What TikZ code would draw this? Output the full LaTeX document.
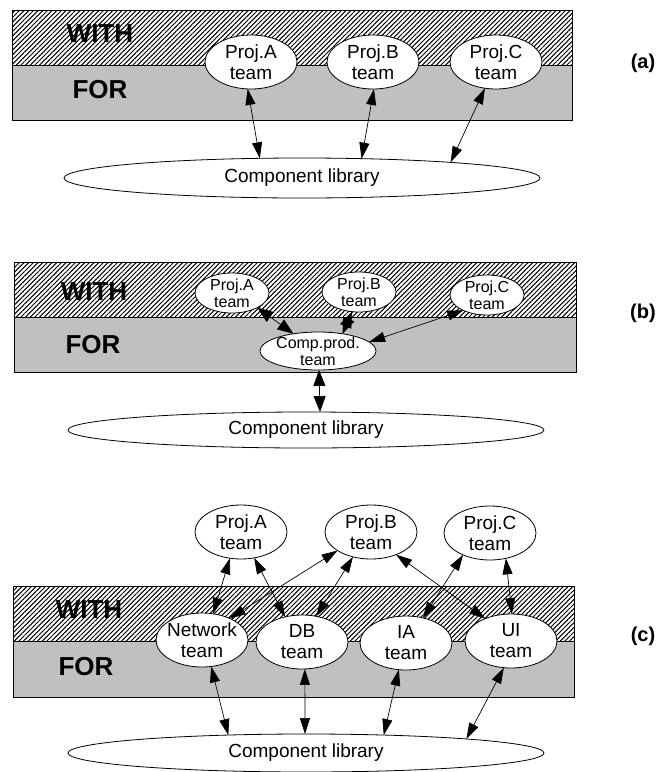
\documentclass[tikz,border=0pt]{standalone}
\usepackage{fontspec}
\setmainfont{Liberation Sans}
\usetikzlibrary{arrows.meta,patterns.meta,shapes.geometric}
\definecolor{forgray}{RGB}{192,192,192}

\begin{document}
\begin{tikzpicture}[x=1pt,y=-1pt,
  team/.style={ellipse,draw,fill=white,line width=0.8pt,inner sep=-8pt,outer sep=0pt,
    minimum width=92pt,minimum height=54pt,align=center,font=\fontsize{19}{21}\selectfont},
  smallteam/.style={team,minimum width=74pt,minimum height=40pt,font=\fontsize{16}{17}\selectfont},
  lib/.style={ellipse,draw,fill=white,line width=0.8pt,inner sep=-8pt,outer sep=0pt,
    minimum width=476pt,minimum height=40pt,font=\fontsize{19}{21}\selectfont},
  zone/.style={font=\bfseries\fontsize{26}{28}\selectfont},
  tag/.style={font=\bfseries\fontsize{20}{22}\selectfont},
  link/.style={{Triangle[length=16pt,width=10pt]}-{Triangle[length=16pt,width=10pt]},line width=0.7pt},
  biglink/.style={{Triangle[length=16pt,width=12pt]}-{Triangle[length=16pt,width=12pt]},line width=0.7pt},
  withzone/.style={pattern={Lines[angle=45,distance=3.3pt,line width=1pt]}},
  band/.style={line width=0.8pt},
]
\useasboundingbox (0,0) rectangle (663,772);

% ---------- (a): every project team works straight from the library
\fill[withzone] (12,10) rectangle (572,65);
\fill[forgray] (12,65) rectangle (572,120);
\draw[band] (12,10) rectangle (572,120) (12,65) -- (572,65);
\node[zone] (witha) at (100,33.5) {WITH};
\node[zone] (fora) at (100,90) {FOR};
\node[team] (pa) at (251,62) {Proj.A\\team};
\node[team] (pb) at (373,62) {Proj.B\\team};
\node[team] (pc) at (496,62) {Proj.C\\team};
\node[lib] (la) at (302,178) {Component library};
\node[tag] (ta) at (643,63) {(a)};
\draw[link] (pa.-97) -- (la.155);
\draw[link] (pb.-88) -- (la.18);
\draw[link] (pc.-113) -- (la.6);

% ---------- (b): one component production team in between
\fill[withzone] (14,262) rectangle (576,317);
\fill[forgray] (14,317) rectangle (576,372);
\draw[band] (14,262) rectangle (576,372) (14,317) -- (576,317);
\node[zone] (withb) at (94,292) {WITH};
\node[zone] (forb) at (93,345) {FOR};
\node[smallteam] (pab) at (232,293) {Proj.A\\team};
\node[smallteam] (pbb) at (359,292) {Proj.B\\team};
\node[smallteam] (pcb) at (487,295) {Proj.C\\team};
\node[smallteam,minimum width=116pt,minimum height=38pt] (cp) at (318,351) {Comp.prod.\\team};
\node[lib,minimum height=36pt] (lb) at (306,430) {Component library};
\node[tag] (tb) at (643,313) {(b)};
\draw[biglink] (pab.-30) -- (cp.145);
\draw[biglink] (pbb.-110) -- (cp.35);
\draw[link] (pcb.-147) -- (cp.10);
\draw[biglink] (cp.-87) -- (lb.52);

% ---------- (c): specialist teams serving the project teams
\fill[withzone] (13,586) rectangle (574,641);
\fill[forgray] (13,641) rectangle (574,697);
\draw[band] (13,586) rectangle (574,697) (13,641) -- (574,641);
\node[zone] (withc) at (89,610) {WITH};
\node[zone] (forc) at (86,667) {FOR};
\node[team] (pac) at (241,532) {Proj.A\\team};
\node[team] (pbc) at (371,532) {Proj.B\\team};
\node[team] (pcc) at (490,533) {Proj.C\\team};
\node[team] (nw) at (202,640) {Network\\team};
\node[team] (db) at (302,642) {DB\\team};
\node[team] (ia) at (406,643) {IA\\team};
\node[team] (ui) at (511,641) {UI\\team};
\node[lib,minimum height=38pt] (lc) at (306,753) {Component library};
\node[tag] (tc) at (643,636) {(c)};
\draw[link] (pac.-113) -- (nw.67);
\draw[link] (pac.-63) -- (db.124);
\draw[link] (pbc.-151) -- (nw.38);
\draw[link] (pbc.-126) -- (db.61);
\draw[link] (pbc.-42) -- (ui.139);
\draw[link] (pcc.-141) -- (ia.56);
\draw[link] (pcc.-58) -- (ui.88);
\draw[link] (nw.-71) -- (lc.167);
\draw[link] (db.-84) -- (lc.93);
\draw[link] (ia.-105) -- (lc.13);
\draw[link] (ui.-105) -- (lc.5);
\end{tikzpicture}
\end{document}
